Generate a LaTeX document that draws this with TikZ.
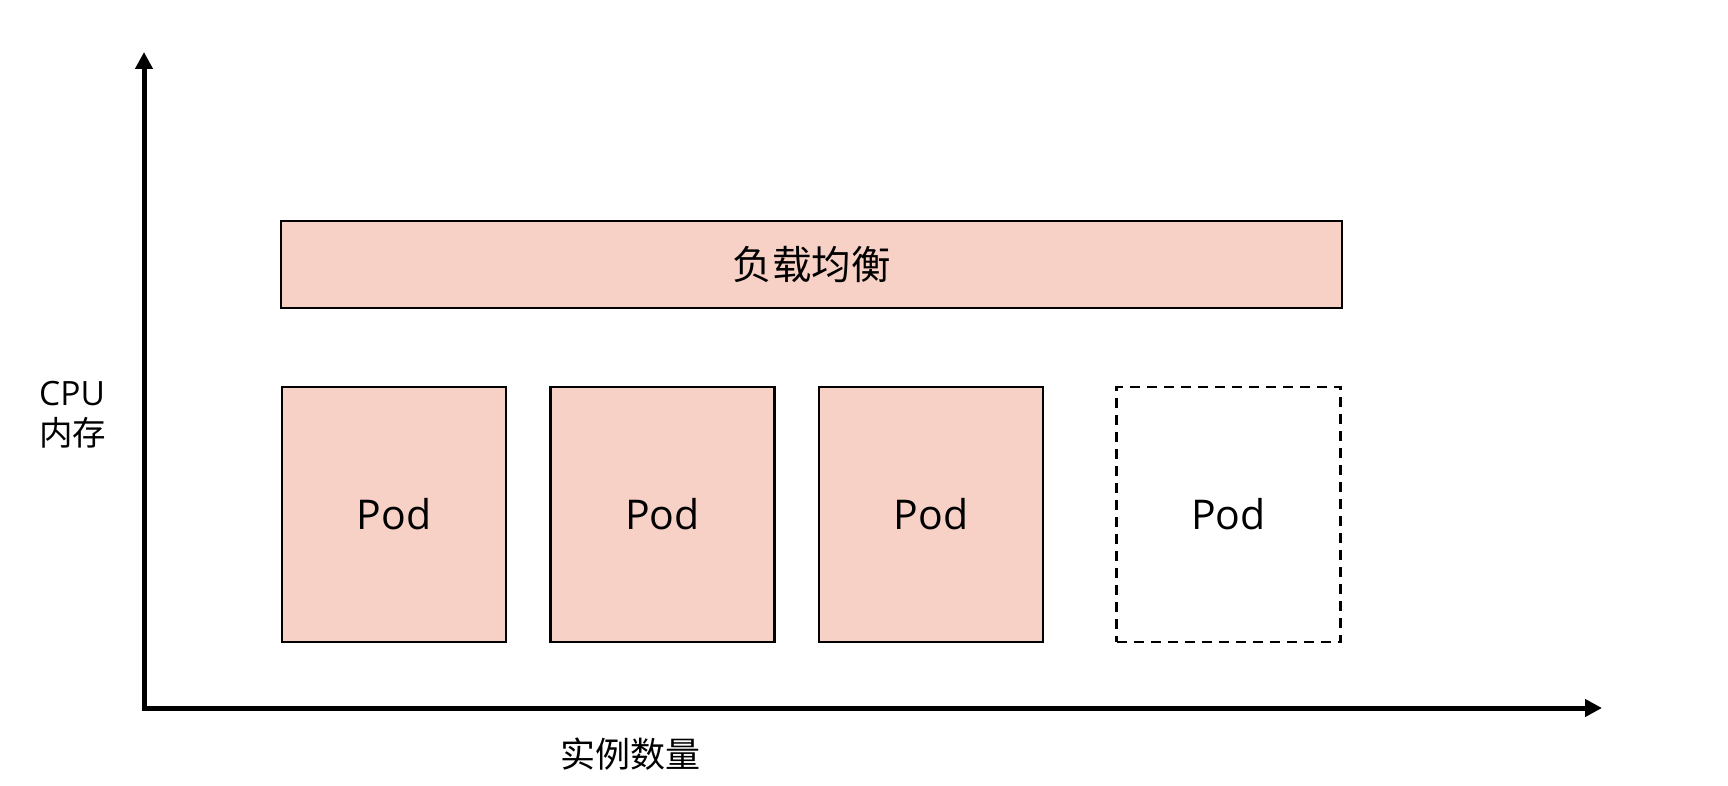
\documentclass[tikz,border=0pt]{standalone}
\usepackage{fontspec}
\setmainfont{Open Sans}
\newfontfamily\cjk{Noto Sans CJK SC}
\usetikzlibrary{arrows.meta}
\definecolor{podfill}{RGB}{247,209,198}
\tikzset{
  box/.style={draw=black, line width=2.6pt, fill=podfill, rectangle, inner sep=0pt},
  podbox/.style={box, minimum width=224pt, minimum height=255pt, font=\fontsize{41}{46}\selectfont},
  ghostbox/.style={podbox, fill=white, dash pattern=on 10pt off 7pt, line width=2.8pt},
  axis/.style={line width=5pt, {Triangle[length=17pt,width=17pt]}-{Triangle[length=17pt,width=17pt]}, line join=miter},
  lbl/.style={inner sep=0pt, text=black}
}
\begin{document}
\begin{tikzpicture}[x=1pt,y=-1pt]
\useasboundingbox (0,0) rectangle (1728,786);
\coordinate (ytop) at (144,52);
\coordinate (origin) at (144,708);
\coordinate (xend) at (1602,708);
\draw[axis] (ytop) -- (origin) -- (xend);
\node[box, minimum width=1061pt, minimum height=87pt, font=\cjk\fontsize{39.5}{45}\selectfont] (lb) at (811.5,264.5) {负载均衡};
\node[podbox] (pod1) at (394,514.5) {Pod};
\node[podbox] (pod2) at (662.5,514.5) {Pod};
\node[podbox] (pod3) at (931,514.5) {Pod};
\node[ghostbox] (pod4) at (1228.5,514.5) {Pod};
\node[lbl, anchor=west, align=left, font=\fontsize{33.5}{40}\selectfont] (ylabel) at (39,415) {CPU\\{\cjk 内存}};
\node[lbl, font=\cjk\fontsize{35}{40}\selectfont] (xlabel) at (630,754) {实例数量};
\end{tikzpicture}
\end{document}
